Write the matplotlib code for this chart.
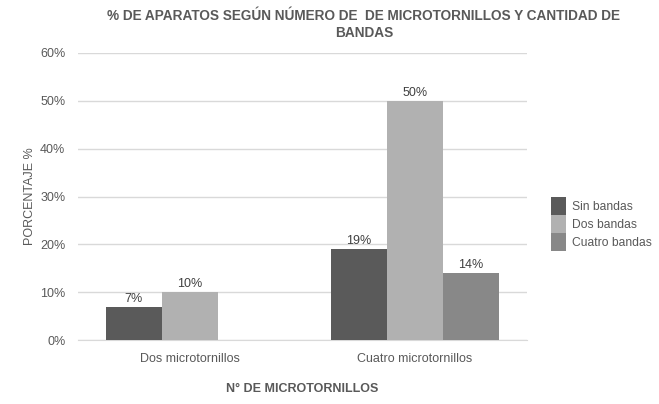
import numpy as np
import matplotlib
matplotlib.use('Agg')
import matplotlib.pyplot as plt
from matplotlib.ticker import PercentFormatter

categories = ['Dos microtornillos', 'Cuatro microtornillos']
series = ['Sin bandas', 'Dos bandas', 'Cuatro bandas']
sin_bandas = [7, 19]
dos_bandas = [10, 50]
cuatro_bandas = [None, 14]
colors = ['#5a5a5a', '#b1b1b1', '#888888']

plt.rcParams['font.family'] = ['Liberation Sans', 'DejaVu Sans']
txt = '#595959'

fig = plt.figure(figsize=(6.59, 4.04), dpi=100)
ax = fig.add_axes([0.118, 0.158, 0.682, 0.711])

x = np.arange(len(categories)) + 0.5
w = 0.25
for i, (name, vals) in enumerate(zip(series, [sin_bandas, dos_bandas, cuatro_bandas])):
    for j, v in enumerate(vals):
        if v is None:
            continue
        xi = x[j] + (i - 1) * w
        ax.bar(xi, v, w, color=colors[i], label=name if j == len(vals) - 1 else None, zorder=3)
        ax.text(xi, v + 0.4, f'{v}%', ha='center', va='bottom', fontsize=9, color='#404040')

ax.set_xlim(0, 2)
ax.set_ylim(0, 60)
ax.set_yticks(range(0, 61, 10))
ax.yaxis.set_major_formatter(PercentFormatter(decimals=0))
ax.set_xticks(x)
ax.set_xticklabels(categories)
ax.grid(axis='y', color='#d9d9d9', linewidth=1, zorder=0)
for s in ['top', 'right', 'left']:
    ax.spines[s].set_visible(False)
ax.spines['bottom'].set_color('#d9d9d9')
ax.tick_params(axis='both', length=0, colors=txt, labelsize=9)
ax.tick_params(axis='x', pad=9)
ax.tick_params(axis='y', pad=9)

ax.set_ylabel('PORCENTAJE %', color=txt, fontsize=9, labelpad=3)
ax.set_xlabel('N° DE MICROTORNILLOS', color=txt, fontsize=9, fontweight='bold', labelpad=13)
fig.suptitle('% DE APARATOS SEGÚN NÚMERO DE  DE MICROTORNILLOS Y CANTIDAD DE\nBANDAS',
             x=0.552, y=0.978, color=txt, fontsize=9.8, fontweight='bold', linespacing=1.3)

ax.legend(loc='center left', bbox_to_anchor=(1.043, 0.405), frameon=False, fontsize=8.7,
          labelcolor=txt, handlelength=1.25, handleheight=1.9, handletextpad=0.45,
          labelspacing=0.0, borderaxespad=0)

fig.savefig('out.png', dpi=100)
